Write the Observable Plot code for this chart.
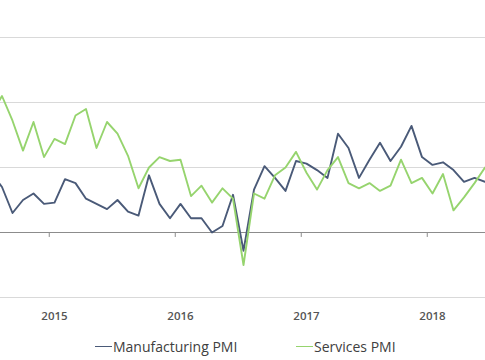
<!DOCTYPE html>
<html>
<head>
<meta charset="utf-8">
<script src="https://cdn.jsdelivr.net/npm/d3@7"></script>
<script src="https://cdn.jsdelivr.net/npm/@observablehq/plot@0.6"></script>
<style>
  html, body { margin: 0; padding: 0; background: #fff; }
  #wrap { position: relative; width: 485px; height: 360px; overflow: hidden; font-family: "Open Sans", "Noto Sans", sans-serif; }
  #legend { position: absolute; left: 0; top: 336px; width: 485px; height: 24px; font-size: 14px; color: #404040; }
  .item { position: absolute; top: 1px; white-space: nowrap; display: flex; align-items: center; }
  .sw { display: inline-block; width: 17px; height: 0; border-top: 1.5px solid; margin-right: 1px; }
</style>
</head>
<body>
<div id="wrap">
  <div id="chart"></div>
  <div id="legend"></div>
</div>
<script>
// Months shown (Jul 2014 is partly off the left edge)
const months = [
  "2014-07","2014-08","2014-09","2014-10","2014-11","2014-12",
  "2015-01","2015-02","2015-03","2015-04","2015-05","2015-06","2015-07","2015-08","2015-09","2015-10","2015-11","2015-12",
  "2016-01","2016-02","2016-03","2016-04","2016-05","2016-06","2016-07","2016-08","2016-09","2016-10","2016-11","2016-12",
  "2017-01","2017-02","2017-03","2017-04","2017-05","2017-06","2017-07","2017-08","2017-09","2017-10","2017-11","2017-12",
  "2018-01","2018-02","2018-03","2018-04","2018-05","2018-06"
];
const manufacturing = [
  54.6, 53.5, 51.5, 52.5, 53.0, 52.2,
  52.3, 54.1, 53.8, 52.6, 52.2, 51.8, 52.5, 51.6, 51.3, 54.4, 52.2, 51.1,
  52.2, 51.1, 51.1, 50.0, 50.5, 52.9, 48.6, 53.3, 55.1, 54.2, 53.2, 55.5,
  55.3, 54.8, 54.2, 57.6, 56.5, 54.2, 55.6, 56.9, 55.5, 56.6, 58.2, 55.8,
  55.2, 55.4, 54.8, 53.9, 54.2, 53.9
];
const services = [
  59.1, 60.5, 58.6, 56.3, 58.5, 55.8,
  57.2, 56.8, 59.0, 59.5, 56.5, 58.5, 57.6, 55.9, 53.4, 55.0, 55.8, 55.5,
  55.6, 52.8, 53.6, 52.3, 53.4, 52.6, 47.5, 53.0, 52.6, 54.4, 55.0, 56.2,
  54.6, 53.3, 54.8, 55.8, 53.8, 53.4, 53.8, 53.2, 53.6, 55.6, 53.8, 54.2,
  53.0, 54.5, 51.7, 52.7, 53.8, 55.0
];
const yearLabels = ["2015", "2016", "2017", "2018"];
const gridValues = [45, 55, 60, 65];
const baseline = 50;
const seriesNames = ["Manufacturing PMI", "Services PMI"];
const seriesColors = ["#4a5a78", "#96d46e"];

// month position index: Aug 2014 = 0
const t0 = months.indexOf("2014-08");
const mIndex = m => months.indexOf(m) - t0;
const rows = months.map((m, i) => ({k: mIndex(m), mfg: manufacturing[i], svc: services[i]}));
const yearTicks = yearLabels.map(y => mIndex(y + "-01") - 0.5);
const yearLabelPos = yearLabels.map(y => ({k: mIndex(y + "-01"), label: y}));

const chart = Plot.plot({
  width: 485,
  height: 330,
  marginLeft: 0,
  marginRight: 0,
  marginTop: 37,
  marginBottom: 33,
  style: {background: "transparent", fontFamily: "Open Sans, Noto Sans, sans-serif"},
  x: {domain: [5 - 54 / 10.5, 5 + 431 / 10.5], axis: null},
  y: {domain: [45, 65], axis: null},
  marks: [
    Plot.ruleY(gridValues, {stroke: "#d9d9d9", strokeWidth: 1.2}),
    Plot.ruleY([baseline], {stroke: "#8c8c8c", strokeWidth: 1}),
    Plot.ruleX(yearTicks, {y1: 50, y2: 49.62, stroke: "#8c8c8c", strokeWidth: 1}),
    Plot.line(rows, {x: "k", y: "mfg", stroke: seriesColors[0], strokeWidth: 1.9, clip: true}),
    Plot.line(rows, {x: "k", y: "svc", stroke: seriesColors[1], strokeWidth: 1.9, clip: true}),
    Plot.text(yearLabelPos, {x: "k", y: 45, text: "label", dy: 19, fontSize: 11.5, fontWeight: 600, fill: "#555555"})
  ]
});
document.getElementById("chart").appendChild(chart);

const legend = document.getElementById("legend");
const lefts = [95, 296];
seriesNames.forEach((name, i) => {
  const it = document.createElement("div");
  it.className = "item";
  it.style.left = lefts[i] + "px";
  const sw = document.createElement("span");
  sw.className = "sw";
  sw.style.borderColor = seriesColors[i];
  const tx = document.createElement("span");
  tx.textContent = name;
  it.appendChild(sw);
  it.appendChild(tx);
  legend.appendChild(it);
});
</script>
</body>
</html>
